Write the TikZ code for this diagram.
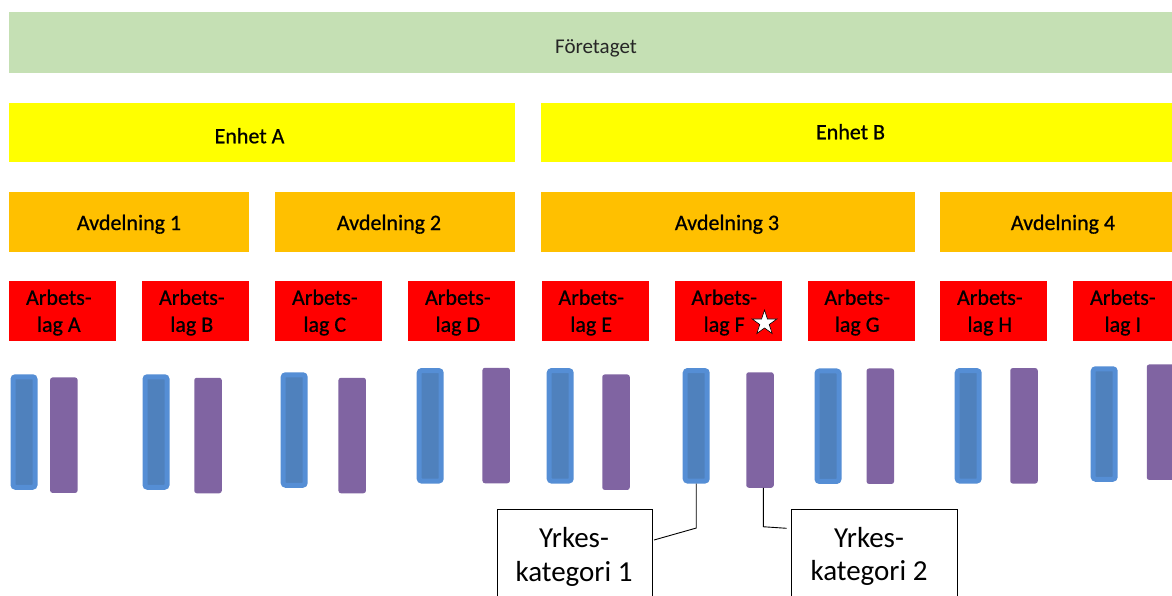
\documentclass[tikz,border=0pt]{standalone}
\usepackage{fontspec}
\setmainfont{Carlito}
\newfontface\boxfont{Carlito}[FakeBold=0.7]
\usetikzlibrary{shapes.geometric}
\definecolor{cgreen}{HTML}{C5E0B4}
\definecolor{cyellow}{HTML}{FFFF00}
\definecolor{corange}{HTML}{FFC000}
\definecolor{cred}{HTML}{FF0000}
\definecolor{cblueo}{HTML}{558ED5}
\definecolor{cbluei}{HTML}{4F81BD}
\definecolor{cpurple}{HTML}{8064A2}
\begin{document}
\begin{tikzpicture}[x=1pt,y=-1pt,
  blk/.style={anchor=north west, inner sep=0pt, outer sep=0pt, draw=none},
  lagbox/.style={blk, fill=cred, minimum width=107pt, minimum height=60pt},
  avdbox/.style={blk, fill=corange, minimum height=59.5pt},
  txt/.style={anchor=base, inner sep=0pt, outer sep=0pt, align=center, text=black, font=\boxfont\fontsize{22}{27}\selectfont},
  bigtxt/.style={anchor=base, inner sep=0pt, outer sep=0pt, align=center, text=black, font=\fontsize{29}{33.5}\selectfont},
  bluebar/.style={draw=cblueo, fill=cbluei, line width=5pt, rounded corners=2.5pt, minimum width=22pt, minimum height=110.5pt, inner sep=0pt},
  purplebar/.style={fill=cpurple, rounded corners=2.5pt, minimum width=27.5pt, minimum height=115.5pt, inner sep=0pt},
  callout/.style={anchor=north west, draw=black, line width=0.8pt, fill=white, inner sep=0pt, minimum height=100pt},
  conn/.style={draw=black, line width=0.9pt}
]
\fill[white] (0,0) rectangle (1172,596);
\clip (0,0) rectangle (1172,596);

% level boxes
\node[blk, fill=cgreen, minimum width=1170pt, minimum height=61pt] (comp) at (9.3,12.3) {};
\node[blk, fill=cyellow, minimum width=506pt, minimum height=59.5pt] (enhA) at (9.3,103) {};
\node[blk, fill=cyellow, minimum width=640pt, minimum height=59.5pt] (enhB) at (541,103) {};
\node[avdbox, minimum width=240pt] (avd1) at (9.3,192) {};
\node[avdbox, minimum width=240pt] (avd2) at (275,192) {};
\node[avdbox, minimum width=373.5pt] (avd3) at (541,192) {};
\node[avdbox, minimum width=250pt] (avd4) at (940,192) {};
\node[lagbox] (lagA) at (9.3,281) {};
\node[lagbox] (lagB) at (142.3,281) {};
\node[lagbox] (lagC) at (275.3,281) {};
\node[lagbox] (lagD) at (408.3,281) {};
\node[lagbox] (lagE) at (541.7,281) {};
\node[lagbox] (lagF) at (674.7,281) {};
\node[lagbox] (lagG) at (807.7,281) {};
\node[lagbox] (lagH) at (940.3,281) {};
\node[lagbox] (lagI) at (1073.3,281) {};

% labels
\node[txt, text=black!85, font=\fontsize{21}{25}\selectfont] (compT) at (596,53.3) {Företaget};
\node[txt] (enhAT) at (249.5,143.3) {Enhet A};
\node[txt] (enhBT) at (850.5,139.3) {Enhet B};
\node[txt] (avd1T) at (129,230) {Avdelning 1};
\node[txt] (avd2T) at (389,230) {Avdelning 2};
\node[txt] (avd3T) at (727,230) {Avdelning 3};
\node[txt] (avd4T) at (1063,230) {Avdelning 4};
\node[txt] (lagAT) at (58.8,331.8) {Arbets-\\lag A};
\node[txt] (lagBT) at (191.8,331.8) {Arbets-\\lag B};
\node[txt] (lagCT) at (324.8,331.8) {Arbets-\\lag C};
\node[txt] (lagDT) at (457.8,331.8) {Arbets-\\lag D};
\node[txt] (lagET) at (591.2,331.8) {Arbets-\\lag E};
\node[txt] (lagFT) at (724.2,331.8) {Arbets-\\lag F};
\node[txt] (lagGT) at (857.2,331.8) {Arbets-\\lag G};
\node[txt] (lagHT) at (989.8,331.8) {Arbets-\\lag H};
\node[txt] (lagIT) at (1122.8,331.8) {Arbets-\\lag I};

\node[star, star points=5, star point ratio=2.618, minimum size=26pt, inner sep=0pt, draw=black, fill=white, line width=0.6pt] (star) at (764.5,323) {};

% bars
\node[bluebar] (blueA) at (24.0,432) {};
\node[bluebar] (blueB) at (156.0,432) {};
\node[bluebar] (blueC) at (294.2,430) {};
\node[bluebar] (blueD) at (430.2,425.8) {};
\node[bluebar] (blueE) at (560.2,425.8) {};
\node[bluebar] (blueF) at (696.2,425.8) {};
\node[bluebar] (blueG) at (828.0,426.2) {};
\node[bluebar] (blueH) at (968.2,425.8) {};
\node[bluebar] (blueI) at (1104.2,424) {};
\node[purplebar] (purpA) at (63.85,435.2) {};
\node[purplebar] (purpB) at (208,435.5) {};
\node[purplebar] (purpC) at (352.2,435.5) {};
\node[purplebar] (purpD) at (496.2,425.5) {};
\node[purplebar] (purpE) at (616,432.2) {};
\node[purplebar] (purpF) at (760,430) {};
\node[purplebar] (purpG) at (880.3,426.2) {};
\node[purplebar] (purpH) at (1024,425.8) {};
\node[purplebar] (purpI) at (1160.5,422.2) {};

% callouts
\node[callout, minimum width=155pt] (yk1) at (496.7,509) {};
\node[callout, minimum width=165.7pt] (yk2) at (791,509) {};
\node[bigtxt] (yk1T) at (574,581.3) {Yrkes-\\kategori 1};
\node[bigtxt] (yk2T) at (869,580.5) {Yrkes-\\kategori 2};

\coordinate (c1) at (654,540);
\coordinate (c2) at (786.7,528.3);
\draw[conn] (blueF.south) -- ++(0,44.5) -- (c1);
\draw[conn] ([xshift=3.3pt]purpF.south) -- ++(0,38.8) -- (c2);
\end{tikzpicture}
\end{document}
